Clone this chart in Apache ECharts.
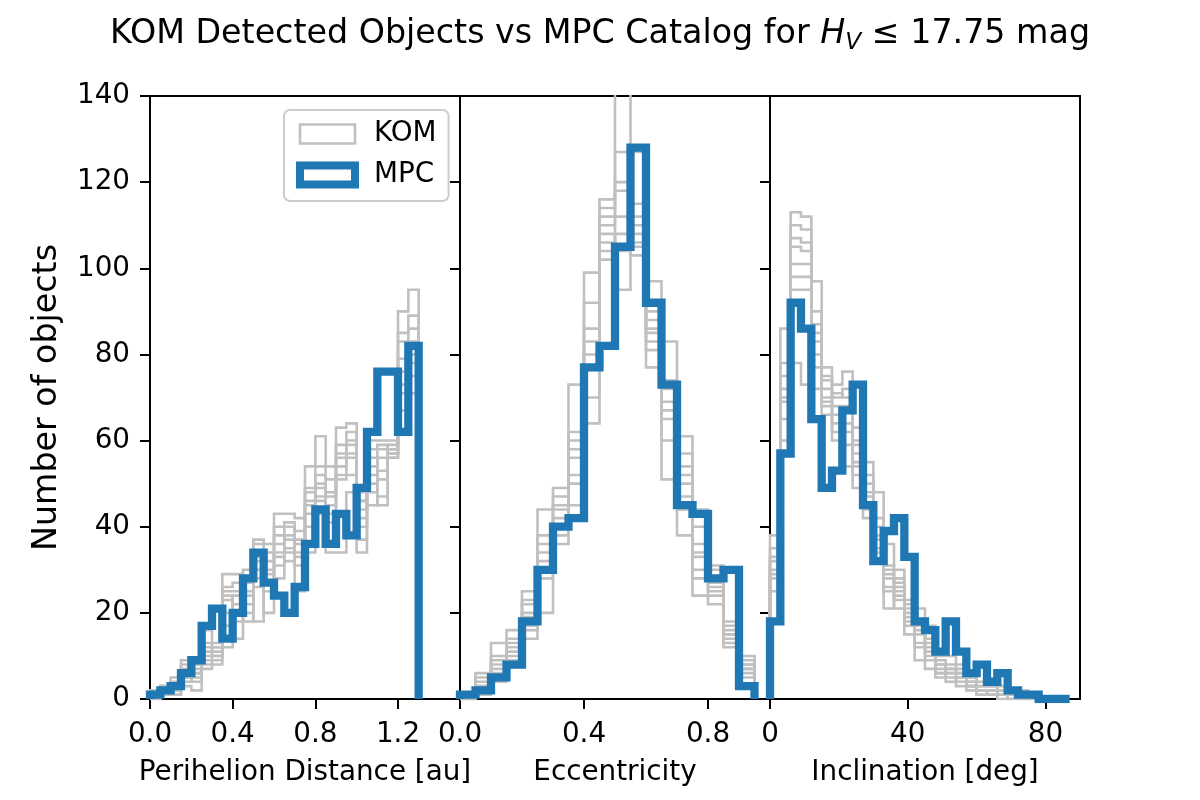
<!DOCTYPE html>
<html><head><meta charset="utf-8">
<script src="https://cdn.jsdelivr.net/npm/echarts@6/dist/echarts.min.js"></script>
<style>html,body{margin:0;padding:0;background:#fff}#c{width:1200px;height:800px}</style>
</head><body><div id="c"></div>
<script>
// ---- histogram bin definitions ----
const periBinStart = 0, periBinWidth = 0.05;
const eccBinStart = 0, eccBinWidth = 0.05;
const incBinStart = 0, incBinWidth = 3;

// ---- tick labels ----
const periTicks = [0, 0.4, 0.8, 1.2];
const eccTicks = [0, 0.4, 0.8];
const incTicks = [0, 40, 80];
const yTicksMax = 140, yTickStep = 20;

// ---- MPC catalog counts ----
const mpcPeri = [1,2,3,6,9,17,21,14,20,28,34,27,24,20,26,36,44,36,43,38,49,62,76,76,62,82];
const mpcEcc  = [1,2,5,8,18,30,40,42,77,82,105,128,92,73,45,43,28,30,3];
const mpcInc  = [18,57,92,86,65,49,53,67,73,45,32,39,42,33,18,16,11,18,11,6,8,4,6,2,1,1,0,0,0];

// ---- KOM detected counts: one row per bin, one column per realisation ----
const komPeriRows = [
  [2,1,1,0,1,2,1,0],[3,2,2,3,1,2,3,2],[5,2,1,3,4,2,3,1],[9,7,5,3,6,4,8,5],
  [8,6,4,2,7,5,8,6],[16,12,10,8,7,11,9,13],[13,12,10,9,8,11,12,10],[29,26,25,23,17,12,20,24],
  [29,27,25,22,20,14,24,18],[30,27,25,22,18,24,28,20],[37,36,32,30,26,18,33,28],[36,32,29,27,20,30,25,34],
  [43,40,36,34,31,28,38,33],[43,40,37,35,32,38,34,41],[42,39,36,34,31,25,37,33],[54,49,46,43,40,34,45,48],
  [61,54,49,47,46,43,52,50],[54,51,48,45,41,34,47,43],[63,59,57,54,51,34,56,52],[64,62,59,56,52,48,57,60],
  [48,46,42,37,34,44,40,46],[60,58,54,48,45,56,52,50],[60,59,56,53,47,45,58,51],[60,58,57,56,59,57,56,58],
  [90,83,79,73,71,67,85,76],[95,89,83,78,75,71,86,80]
];
const komEccRows = [
  [1,0,1,0,0,1,0,1],[6,3,2,4,1,5,3,2],[13,10,7,4,8,6,9,5],[16,11,8,13,10,12,9,14],
  [25,22,19,14,17,20,23,16],[44,38,34,30,28,20,36,32],[49,47,44,40,36,42,45,38],[73,62,56,45,50,60,52,58],
  [99,92,83,77,70,64,86,80],[116,114,110,106,102,108,112,104],[150,127,120,112,104,95,118,108],[127,115,110,106,103,108,112,105],
  [97,90,86,85,81,77,88,83],[83,72,69,65,51,67,74,60],[61,57,54,50,47,38,52,44],[44,36,33,30,24,34,28,40],
  [31,26,22,28,24,30,25,27],[18,16,15,12,14,17,13,15],[10,8,7,5,6,9,7,8]
];
const komIncRows = [
  [38,35,32,30,28,25,33,29],[86,75,72,69,65,60,78,70],[113,110,105,101,98,78,107,95],[112,109,104,101,98,73,106,95],
  [97,87,85,83,77,72,90,80],[77,75,72,69,66,74,70,68],[73,70,68,64,60,66,71,62],[76,72,68,64,59,54,70,62],
  [63,59,54,49,57,52,60,55],[55,50,48,45,42,52,47,44],[48,42,37,35,32,40,38,34],[36,31,28,26,21,30,25,29],
  [30,27,24,21,28,25,23,26],[23,21,18,15,20,17,19,22],[21,17,15,9,13,16,12,18],[17,14,11,7,10,12,9,13],
  [10,8,5,7,6,9,6,8],[10,7,5,6,8,4,7,6],[8,5,4,6,7,5,3,6],[5,3,4,2,3,4,5,3],
  [4,2,1,3,2,1,3,2],[4,2,1,3,1,2,3,1],[3,1,2,1,2,1,0,2],[2,1,0,1,1,2,1,0],
  [2,1,1,0,1,0,1,1],[1,0,1,1,0,1,0,1]
];

// ---- helpers ----
function stepPoints(start, width, counts) {
  const pts = [[start, 0]];
  counts.forEach((c, i) => {
    const x0 = +(start + i * width).toFixed(6), x1 = +(start + (i + 1) * width).toFixed(6);
    pts.push([x0, c], [x1, c]);
  });
  pts.push([+(start + counts.length * width).toFixed(6), 0]);
  return pts;
}
function columns(rows) {
  const n = rows[0].length, out = [];
  for (let j = 0; j < n; j++) out.push(rows.map(r => r[j]));
  return out;
}

const GRAY = '#c0c0c0', BLUE = '#1f77b4', FONT = 'DejaVu Sans';
const panels = [
  {start: periBinStart, width: periBinWidth, kom: columns(komPeriRows), mpc: mpcPeri},
  {start: eccBinStart, width: eccBinWidth, kom: columns(komEccRows), mpc: mpcEcc},
  {start: incBinStart, width: incBinWidth, kom: columns(komIncRows), mpc: mpcInc}
];

const series = [];
panels.forEach((p, k) => {
  p.kom.forEach(counts => series.push({
    type: 'line', name: 'KOM', xAxisIndex: k, yAxisIndex: k,
    data: stepPoints(p.start, p.width, counts), symbol: 'none', silent: true,
    lineStyle: {color: GRAY, width: 2.6, join: 'miter', cap: 'butt'}, itemStyle: {color: GRAY}, z: 2
  }));
});
panels.forEach((p, k) => {
  series.push({
    type: 'line', name: 'MPC', xAxisIndex: k, yAxisIndex: k,
    data: stepPoints(p.start, p.width, p.mpc), symbol: 'none', silent: true,
    lineStyle: {color: BLUE, width: 8.3, join: 'miter', cap: 'butt'}, itemStyle: {color: BLUE}, z: 3
  });
});

const axisLineStyle = {color: '#000', width: 2};
function xAxisDef(idx, max, ticks, fmt, name) {
  return {
    gridIndex: idx, type: 'value', min: 0, max: max,
    axisLine: {show: true, onZero: false, lineStyle: axisLineStyle},
    axisTick: {show: true, length: 10, lineStyle: axisLineStyle, customValues: ticks},
    axisLabel: {customValues: ticks, formatter: fmt, fontSize: 27.8, color: '#000', fontFamily: FONT, margin: 22},
    splitLine: {show: false},
    name: name, nameLocation: 'middle', nameGap: 60,
    nameTextStyle: {fontSize: 27.8, color: '#000', fontFamily: FONT}
  };
}
function yAxisDef(idx) {
  const d = {
    gridIndex: idx, type: 'value', min: 0, max: yTicksMax, interval: yTickStep,
    axisLine: {show: true, onZero: false, lineStyle: axisLineStyle},
    axisTick: {show: true, length: 10, lineStyle: axisLineStyle},
    axisLabel: {show: idx === 0, fontSize: 27.8, color: '#000', fontFamily: FONT, margin: 20},
    splitLine: {show: false}
  };
  if (idx === 0) {
    d.name = 'Number of objects'; d.nameLocation = 'middle'; d.nameGap = 86;
    d.nameTextStyle = {fontSize: 33.3, color: '#000', fontFamily: FONT};
  }
  return d;
}

const gridBase = {top: 96, height: 603, width: 310, show: true, borderColor: '#000', borderWidth: 2, backgroundColor: 'transparent'};

const option = {
  animation: false,
  backgroundColor: '#fff',
  textStyle: {fontFamily: FONT},
  title: {
    text: '{a|KOM Detected Objects vs MPC Catalog for }{i|H}{s|V}{a| ≤ 17.75 mag}',
    left: 'center', top: 14, padding: 0,
    textStyle: {fontWeight: 'normal', rich: {
      a: {fontSize: 33.3, fontFamily: FONT, fontWeight: 'normal', color: '#000', lineHeight: 40},
      i: {fontSize: 33.3, fontFamily: FONT, fontWeight: 'normal', fontStyle: 'italic', color: '#000', lineHeight: 40},
      s: {fontSize: 23.3, fontFamily: FONT, fontWeight: 'normal', fontStyle: 'italic', color: '#000', lineHeight: 24, verticalAlign: 'bottom'}
    }}
  },
  legend: {
    data: [
      {name: 'KOM', icon: 'rect', itemStyle: {color: '#fff', borderColor: GRAY, borderWidth: 2.6}},
      {name: 'MPC', icon: 'rect', itemStyle: {color: '#fff', borderColor: BLUE, borderWidth: 8}}
    ],
    orient: 'vertical', left: 284, top: 110, itemWidth: 55, itemHeight: 19, itemGap: 13,
    padding: [10, 12, 12, 12], backgroundColor: 'rgba(255,255,255,0.8)',
    borderColor: '#cccccc', borderWidth: 2, borderRadius: 6, selectedMode: false,
    textStyle: {fontSize: 27.8, fontFamily: FONT, color: '#000', padding: [0, 0, 0, 14]}
  },
  grid: [
    Object.assign({}, gridBase, {left: 150}),
    Object.assign({}, gridBase, {left: 460}),
    Object.assign({}, gridBase, {left: 770})
  ],
  xAxis: [
    xAxisDef(0, 1.5, periTicks, v => v.toFixed(1), 'Perihelion Distance [au]'),
    xAxisDef(1, 1.0, eccTicks, v => v.toFixed(1), 'Eccentricity'),
    xAxisDef(2, 90, incTicks, v => String(v), 'Inclination [deg]')
  ],
  yAxis: [yAxisDef(0), yAxisDef(1), yAxisDef(2)],
  series: series
};

echarts.init(document.getElementById('c'), null, {renderer: 'canvas'}).setOption(option);
</script>
</body></html>
